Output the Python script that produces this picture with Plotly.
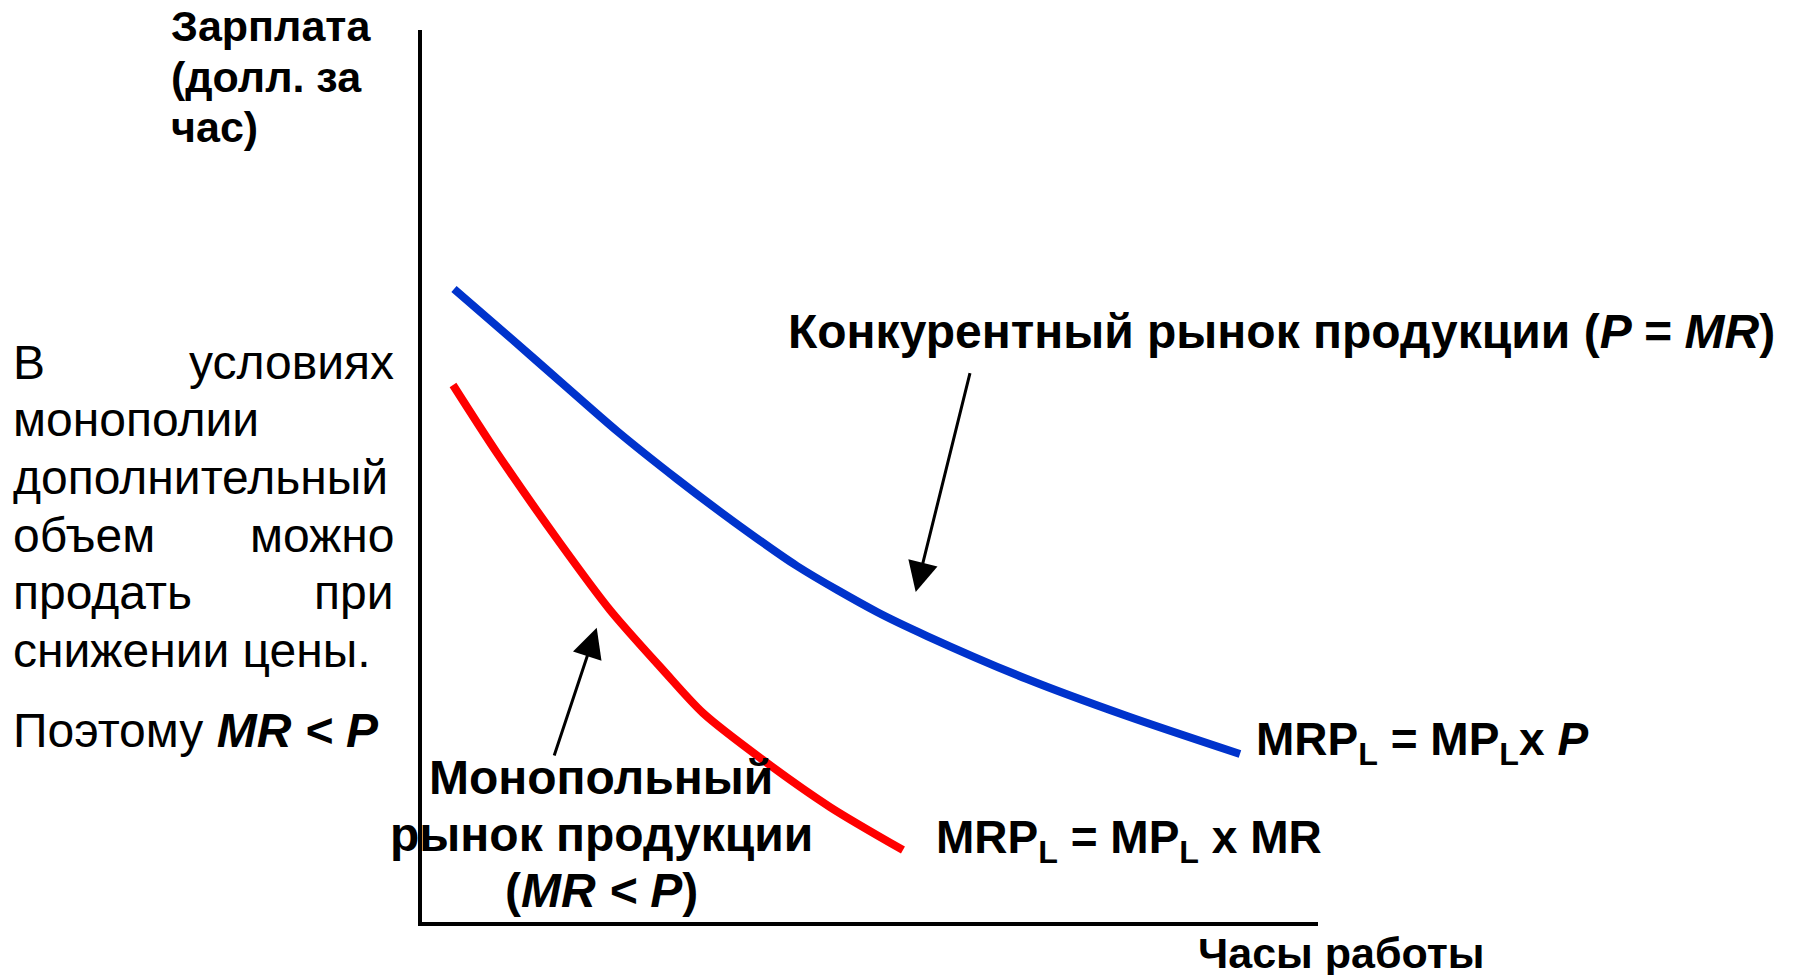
import plotly.graph_objects as go

W, H = 1796, 975          # reference image size
M = 8                     # default body margin of the html page
FW, FH = W - M, H - M

# Curves (hours of work vs wage, arbitrary units 0-100)
blue_x = [3.57, 9.82, 15.74, 21.76, 28.46, 34.38, 41.85, 50.78, 56.36, 67.52, 78.68, 91.29]
blue_y = [70.96, 65.53, 60.31, 55.04, 49.66, 45.18, 39.91, 34.75, 32.06, 27.24, 23.09, 18.83]
red_x = [3.46, 8.37, 15.40, 20.98, 26.90, 31.36, 38.06, 45.54, 53.68]
red_y = [60.20, 52.58, 42.49, 34.98, 28.25, 23.43, 18.16, 12.89, 8.07]

# arrows: (head x, head y, tail x, tail y) in data units
arrow_comp = (55.1, 37.0, 61.2, 61.7)
arrow_mono = (19.5, 33.0, 14.7, 18.5)

FONT = "Liberation Sans, Arial, sans-serif"

fig = go.Figure()
fig.add_trace(go.Scatter(x=blue_x, y=blue_y, mode="lines",
                         line=dict(color="#0033CC", width=8, shape="spline", smoothing=0.8),
                         hoverinfo="skip", showlegend=False))
fig.add_trace(go.Scatter(x=red_x, y=red_y, mode="lines",
                         line=dict(color="#FF0000", width=8, shape="spline", smoothing=0.8),
                         hoverinfo="skip", showlegend=False))


def px(x):
    return (x - M) / FW


def py(y):
    return 1 - (y - M) / FH


ann = []


def text(t, x, y, size, xanchor="left", yanchor="middle", align="left"):
    ann.append(dict(text=t, x=px(x), y=py(y), xref="paper", yref="paper", showarrow=False,
                    xanchor=xanchor, yanchor=yanchor, align=align,
                    font=dict(family=FONT, size=size, color="black")))


# axis titles
for t, yy in [("Зарплата", 26), ("(долл. за", 77), ("час)", 127)]:
    text("<b>" + t + "</b>", 169, yy, 43)
text("<b>Часы работы</b>", 1196, 953, 43)

# explanatory paragraph (justified)
PL, PR, PS = 11, 396, 48
text("В", PL, 362, PS)
text("условиях", PR, 362, PS, xanchor="right")
text("монополии", PL, 419, PS)
text("дополнительный", PL, 477, PS)
text("объем", PL, 535, PS)
text("можно", PR, 535, PS, xanchor="right")
text("продать", PL, 592, PS)
text("при", PR, 592, PS, xanchor="right")
text("снижении цены.", PL, 650, PS)
text("Поэтому <b><i>MR < P</i></b>", PL, 730, PS)

# curve labels
text("<b>Конкурентный рынок продукции (<i>P = MR</i>)</b>", 1281, 331, 48, xanchor="center")
for t, yy in [("Монопольный", 777), ("рынок продукции", 834), ("(<i>MR < P</i>)", 890)]:
    text("<b>" + t + "</b>", 601, yy, 48, xanchor="center")
text("<b>MRP<sub>L</sub> = MP<sub>L</sub>x <i>P</i></b>", 1254, 742, 46)
text("<b>MRP<sub>L</sub> = MP<sub>L</sub> x MR</b>", 934, 840, 46)

# arrows
for hx, hy, tx, ty in (arrow_comp, arrow_mono):
    ann.append(dict(x=hx, y=hy, ax=tx, ay=ty, xref="x", yref="y", axref="x", ayref="y",
                    showarrow=True, arrowhead=2, arrowsize=2.0, arrowwidth=3, arrowcolor="black", text=""))

fig.update_layout(
    width=FW, height=FH,
    margin=dict(l=0, r=0, t=0, b=0),
    paper_bgcolor="white", plot_bgcolor="white",
    annotations=ann,
    xaxis=dict(domain=[px(422), px(1318)], range=[0, 100], showline=True, linecolor="black", linewidth=4,
               showgrid=False, zeroline=False, showticklabels=False, ticks="", mirror=False, fixedrange=True),
    yaxis=dict(domain=[py(922), py(30)], range=[0, 100], showline=True, linecolor="black", linewidth=4,
               showgrid=False, zeroline=False, showticklabels=False, ticks="", mirror=False, fixedrange=True),
    showlegend=False,
)

fig.write_html("out.html", config={"displayModeBar": False})
